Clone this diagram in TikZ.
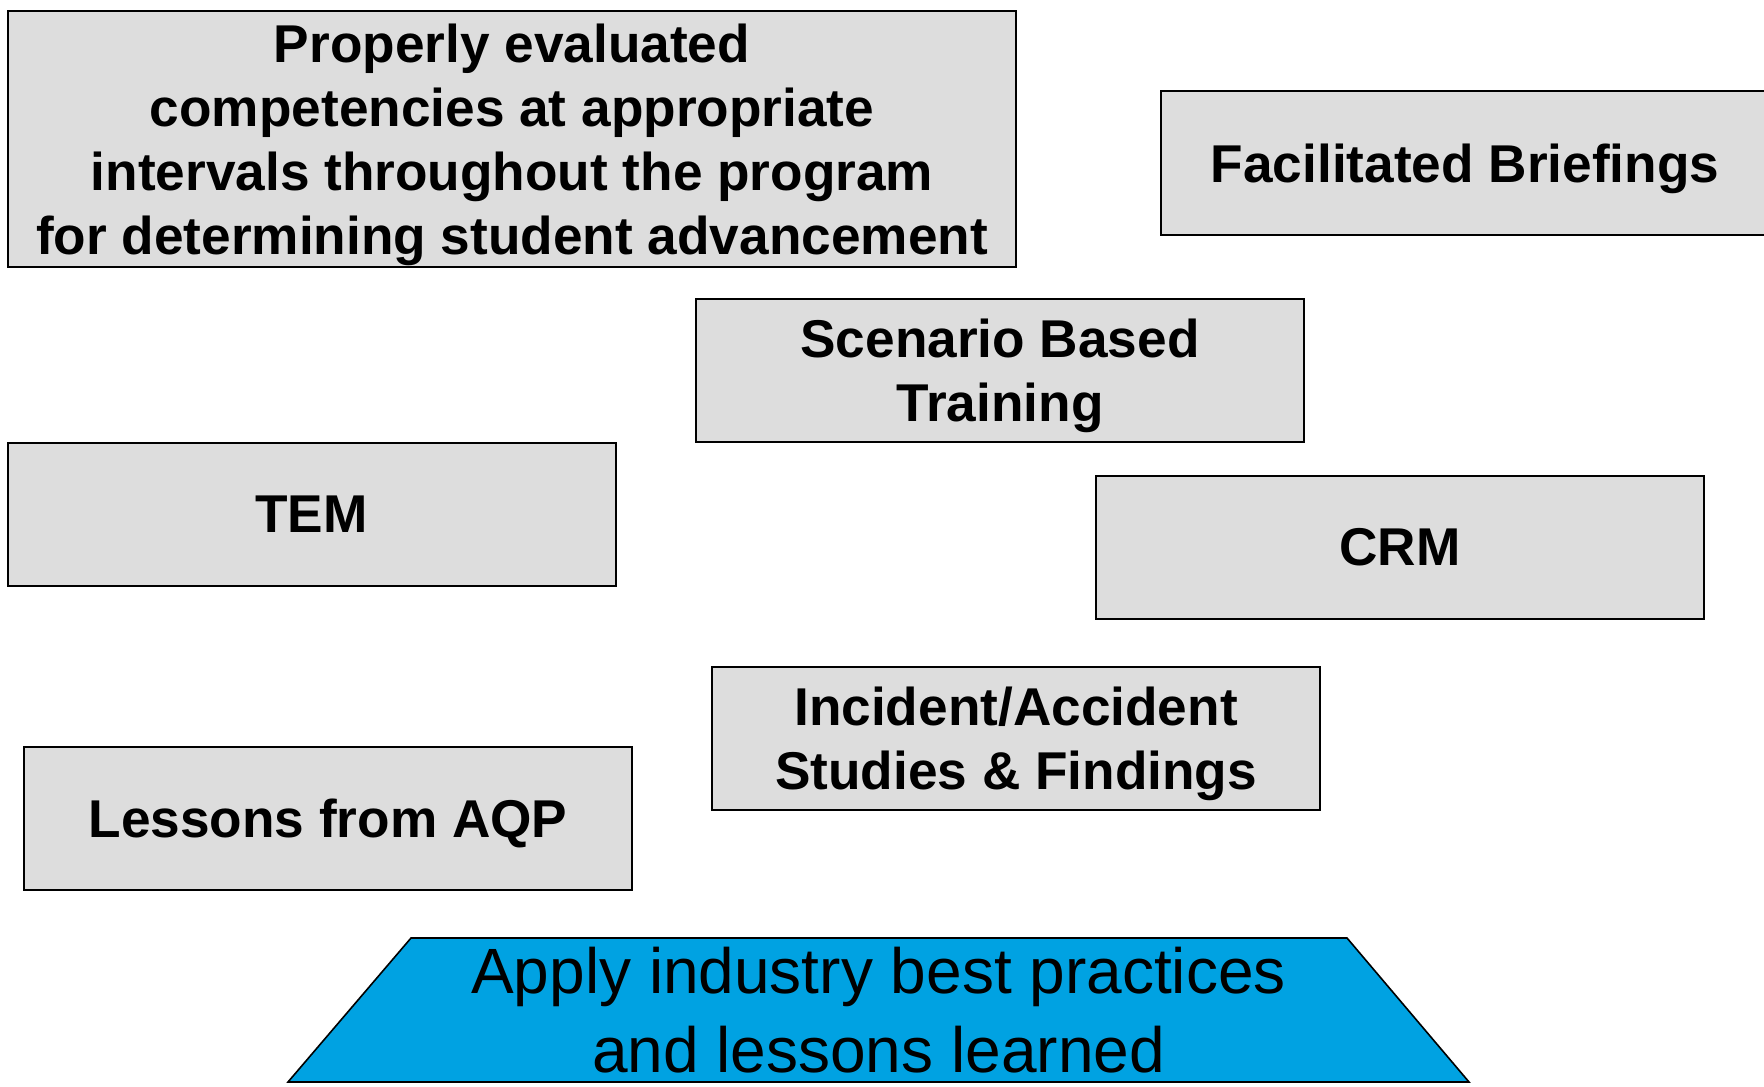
\documentclass[tikz,border=0pt]{standalone}
\usepackage{fontspec}
\setmainfont{Liberation Sans}
\definecolor{boxgray}{HTML}{DDDDDD}
\definecolor{applyblue}{HTML}{00A2E2}

\begin{document}
\begin{tikzpicture}[x=0.5pt, y=-0.5pt,
		topic/.style={draw, rectangle, line width=1pt, fill=boxgray, minimum width=304pt, minimum height=71.5pt, align=center, font=\bfseries\fontsize{26.6}{32}\selectfont, inner sep=0pt, text depth=0pt}]
				\useasboundingbox (0,0) rectangle (1764,1086);
				\node[topic, minimum width=504pt, minimum height=128pt] (proper)at(512, 139) {Properly evaluated\\competencies at appropriate\\intervals throughout the program\\for determining student advancement};
				\node[topic] (briefings)at(1465, 163) {Facilitated Briefings};
				\node[topic] (scenario)at(1000, 370.5) {Scenario Based\\Training};
				\node[topic] (tem)at(311.5, 514.5) {TEM};
				\node[topic] (crm)at(1400, 547) {CRM};
				\node[topic] (incident)at(1016, 738.5) {Incident/Accident\\Studies \& Findings};
				\node[topic] (aqp)at(328, 818.5) {Lessons from AQP};
				% base of the stack
				\draw[fill=applyblue, line width=0.8pt] (411, 938) -- (1347, 938) -- (1469, 1082) -- (288, 1082) -- cycle;
				\node[align=center, inner sep=0pt, font=\fontsize{32}{39.5}\selectfont] (apply)at(878.5, 1010) {Apply industry best practices\\and lessons learned};
			\end{tikzpicture}
\end{document}
